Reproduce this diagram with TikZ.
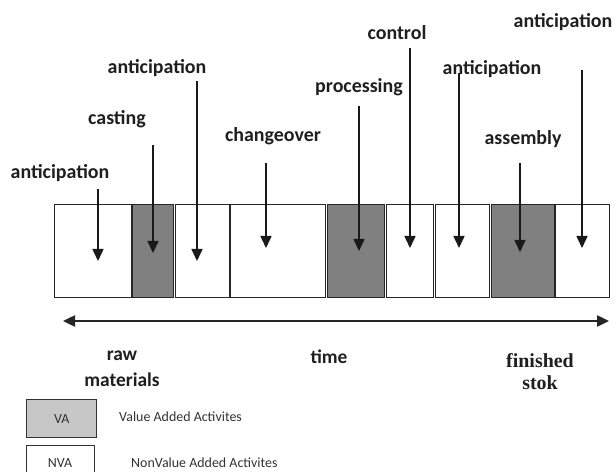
\documentclass[tikz,border=0pt]{standalone}
\usepackage{fontspec}
\setmainfont{Carlito}
\newfontfamily\timesfam{Liberation Serif}
\usetikzlibrary{arrows.meta}
\begin{document}
\begin{tikzpicture}[x=1bp,y=-1bp,
  actbox/.style={draw=black!85, line width=1.4bp, inner sep=0pt, anchor=north west},
  vabox/.style={actbox, fill=black!50},
  nvabox/.style={actbox, fill=white},
  lbl/.style={font=\bfseries\fontsize{20}{22}\selectfont, text=black!88, inner sep=0pt},
  axlbl/.style={font=\bfseries\fontsize{19.5}{26}\selectfont, text=black!88, inner sep=0pt, align=center},
  serlbl/.style={font=\timesfam\bfseries\fontsize{20}{22}\selectfont, text=black!88, inner sep=0pt, align=center},
  legtext/.style={font=\fontsize{14}{16}\selectfont, text=black!80, inner sep=0pt},
  legbox/.style={draw=black!80, line width=1.4bp, inner sep=0pt, anchor=north west},
  ptr/.style={draw=black!90, line width=1.5bp, -{Triangle[width=11bp,length=12bp]}},
  timeline/.style={draw=black!85, line width=2.4bp, {Triangle[width=11bp,length=12bp]}-{Triangle[width=11bp,length=12bp]}}
]
\clip (0,0) rectangle (615,472);
\fill[white] (0,0) rectangle (615,472);

% activity boxes
\node[nvabox, minimum width=77bp, minimum height=93bp] (b1) at (54,204) {};
\node[vabox,  minimum width=41bp, minimum height=93bp] (b2) at (132,204) {};
\node[nvabox, minimum width=54bp, minimum height=93bp] (b3) at (175,204) {};
\node[nvabox, minimum width=95bp, minimum height=93bp] (b4) at (230,204) {};
\node[vabox,  minimum width=57bp, minimum height=93bp] (b5) at (327,204) {};
\node[nvabox, minimum width=47bp, minimum height=93bp] (b6) at (386,204) {};
\node[nvabox, minimum width=54bp, minimum height=93bp] (b7) at (435,204) {};
\node[vabox,  minimum width=63bp, minimum height=93bp] (b8) at (491,204) {};
\node[nvabox, minimum width=54bp, minimum height=93bp] (b9) at (555,204) {};

% labels
\node[lbl] (l1) at (60,173) {anticipation};
\node[lbl] (l2) at (117,119) {casting};
\node[lbl] (l3) at (157,68) {anticipation};
\node[lbl] (l4) at (273,136) {changeover};
\node[lbl] (l5) at (359,87) {processing};
\node[lbl] (l6) at (397,33) {control};
\node[lbl] (l7) at (492,69) {anticipation};
\node[lbl] (l8) at (523,139) {assembly};
\node[lbl] (l9) at (563,22) {anticipation};

% arrow end points
\coordinate (s1) at (98,189);  \coordinate (e1) at (98,261);
\coordinate (s2) at (153,145); \coordinate (e2) at (153,253);
\coordinate (s3) at (197,81);  \coordinate (e3) at (197,261);
\coordinate (s4) at (266,163); \coordinate (e4) at (266,248);
\coordinate (s5) at (359,106); \coordinate (e5) at (359,251);
\coordinate (s6) at (410,48);  \coordinate (e6) at (410,248);
\coordinate (s7) at (459,73);  \coordinate (e7) at (459,248);
\coordinate (s8) at (520,163); \coordinate (e8) at (520,252);
\coordinate (s9) at (582,70);  \coordinate (e9) at (582,248);
\foreach \i in {1,...,9} { \draw[ptr] (s\i) -- (e\i); }

% time line
\coordinate (tl) at (63,321);
\coordinate (tr) at (609,321);
\draw[timeline] (tl) -- (tr);

\node[axlbl] (raw) at (122,369) {raw\\materials};
\node[axlbl] (time) at (329,357) {time};
\node[serlbl] (fin) at (540,372) {finished\\stok};

% legend
\node[legbox, fill=black!22, minimum width=70bp, minimum height=38bp] (va) at (26,399) {};
\node[legtext] at (va.center) {VA};
\node[legtext, anchor=west] (vat) at (119,417) {Value Added Activites};
\node[legbox, fill=white, minimum width=68bp, minimum height=36bp] (nva) at (26,445) {};
\node[legtext] at (60,463) {NVA};
\node[legtext, anchor=west] (nvat) at (131,463) {NonValue Added Activites};
\end{tikzpicture}
\end{document}
